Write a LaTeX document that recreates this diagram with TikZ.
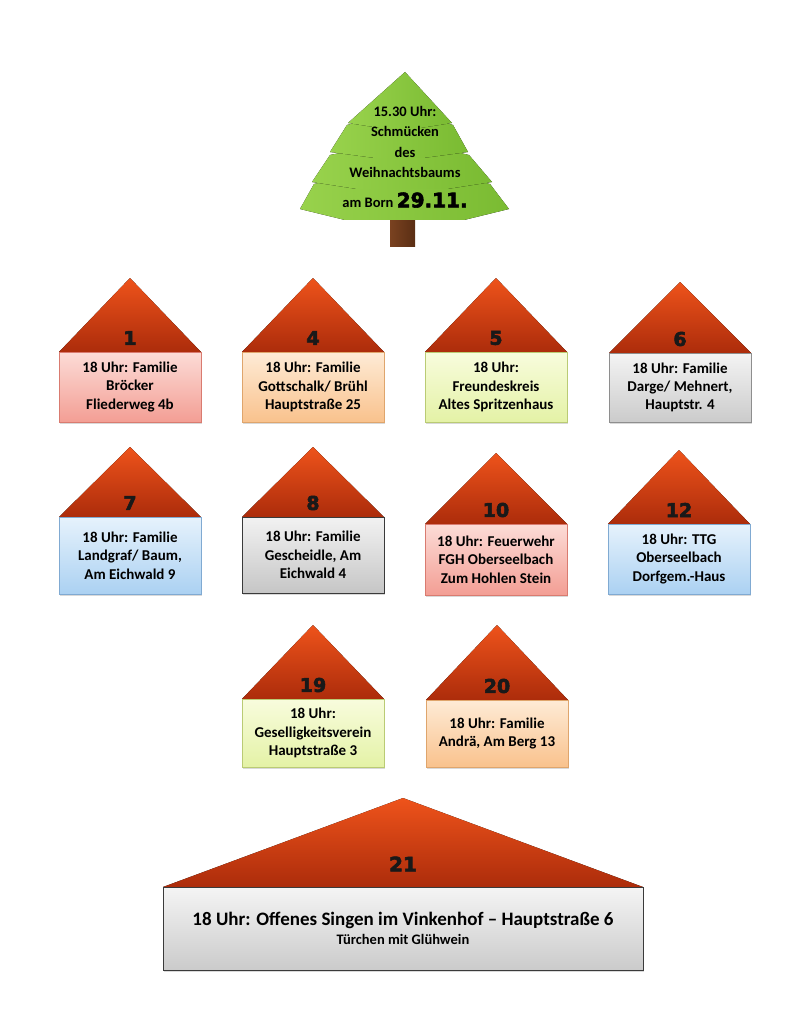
\documentclass[tikz,border=0pt]{standalone}
\usepackage{fontspec}
\setmainfont{Carlito}
\newfontfamily\zahlfont[FakeBold=3]{DejaVu Sans Bold}
\usetikzlibrary{shadows}

\definecolor{dach1}{HTML}{EE531B}
\definecolor{dach2}{HTML}{AC2C0B}
\definecolor{rosa1}{HTML}{FCDCD7}
\definecolor{rosa2}{HTML}{F39E94}
\definecolor{rosa3}{HTML}{D97B70}
\definecolor{apricot1}{HTML}{FEEBD6}
\definecolor{apricot2}{HTML}{F9C28D}
\definecolor{apricot3}{HTML}{DFA56C}
\definecolor{gelb1}{HTML}{F8FCDD}
\definecolor{gelb2}{HTML}{E4F2A6}
\definecolor{gelb3}{HTML}{BACB74}
\definecolor{grau1}{HTML}{F4F4F4}
\definecolor{grau2}{HTML}{CBCBCB}
\definecolor{grau3}{HTML}{8E8E8E}
\definecolor{blau1}{HTML}{E6F2FC}
\definecolor{blau2}{HTML}{ABD1F2}
\definecolor{blau3}{HTML}{80AAD2}
\definecolor{dunkel1}{HTML}{F2F2F2}
\definecolor{dunkel2}{HTML}{C6C6C6}
\definecolor{dunkel3}{HTML}{3A3A3A}
\definecolor{tanne1}{HTML}{98D24C}
\definecolor{tanne2}{HTML}{7ABB32}
\definecolor{stamm1}{HTML}{7A4220}
\definecolor{stamm2}{HTML}{5A2E14}

\tikzset{
  dach/.style={top color=dach1, bottom color=dach2},
  hausbox/.style={rectangle, align=center, inner sep=0pt, minimum width=142pt,
    font=\bfseries\fontsize{15}{18.3}\selectfont, line width=0.8pt,
    drop shadow={shadow xshift=1pt, shadow yshift=-2pt, opacity=0.3}},
  nummer/.style={font=\zahlfont\fontsize{19}{22}\selectfont, inner sep=0pt, text=black!90},
  tanne/.style={left color=tanne1, right color=tanne2},
}

\begin{document}
\begin{tikzpicture}[x=1pt, y=-1pt]
    \useasboundingbox (0,0) rectangle (810,1024);

    % Baum
    \fill[left color=stamm1, right color=stamm2] (390,212) rectangle (415,246);
    \foreach \pk/\tl/\tr/\yt/\bl/\br/\yb/\lp in {165/314/490/184/300/509/209/220, 140/330/469/155/312/492/182/189, 110/347/453/125/330/468/152/158}{
        \fill[tanne] (405,\pk) -- (\tr,\yt) -- (\br,\yb) -- ({\br-45},\lp) -- ({\bl+45},\lp) -- (\bl,\yb) -- (\tl,\yt) -- cycle;
    }
    \fill[tanne] (405,72) -- (452,123) -- (420,128) -- (380,128) -- (348,123) -- cycle;
    \node[font=\bfseries\fontsize{14.5}{20.5}\selectfont, align=center, anchor=north, inner sep=0pt] (baumtext) at (405,106)
        {15.30 Uhr:\\Schmücken\\des\\Weihnachtsbaums\\[9pt]am Born {\zahlfont\fontsize{20}{24}\selectfont 29.11.}};

    % Haeuser
    \foreach \n/\xm/\ya/\yb/\yc/\farbe/\txt in {
        1/130/278/352/422/rosa/{18 Uhr: Familie\\Bröcker\\Fliederweg 4b},
        4/313/278/352/422/apricot/{18 Uhr: Familie\\Gottschalk/ Brühl\\Hauptstraße 25},
        5/496/278/352/422/gelb/{18 Uhr:\\Freundeskreis\\Altes Spritzenhaus},
        6/680/282/353/422/grau/{18 Uhr: Familie\\Darge/ Mehnert,\\Hauptstr. 4},
        7/130/447/517/594/blau/{18 Uhr: Familie\\Landgraf/ Baum,\\Am Eichwald 9},
        8/313/447/517/593/dunkel/{18 Uhr: Familie\\Gescheidle, Am\\Eichwald 4},
        10/496/453/524/595/rosa/{18 Uhr: Feuerwehr\\FGH Oberseelbach\\Zum Hohlen Stein},
        12/679/450/524/594/blau/{18 Uhr: TTG\\Oberseelbach\\Dorfgem.-Haus},
        19/313/625/699/767/gelb/{18 Uhr:\\Geselligkeitsverein\\Hauptstraße 3},
        20/497/625/700/767/apricot/{18 Uhr: Familie\\Andrä, Am Berg 13}}{
        \fill[dach] (\xm,\ya) -- ({\xm+71},\yb) -- ({\xm-71},\yb) -- cycle;
        \node[nummer] (nr\n) at (\xm,{\yb-14}) {\n};
        \node[hausbox, top color=\farbe1, bottom color=\farbe2, draw=\farbe3, minimum height={(\yc-\yb)*1pt}]
            (box\n) at (\xm,{(\yb+\yc)/2}) {\txt};
    }

    % Haus 21
    \fill[dach] (403,798) -- (643,887) -- (163,887) -- cycle;
    \node[nummer, font=\zahlfont\fontsize{20}{22}\selectfont] (nr21) at (403,864) {21};
    \node[hausbox, top color=grau1, bottom color=grau2, draw=dunkel3, minimum width=480pt, minimum height=83pt]
        (box21) at (403,928.5) {{\fontsize{19}{22}\selectfont 18 Uhr: Offenes Singen im Vinkenhof – Hauptstraße 6}\\
        {\fontsize{14.5}{19}\selectfont Türchen mit Glühwein}};
\end{tikzpicture}
\end{document}
